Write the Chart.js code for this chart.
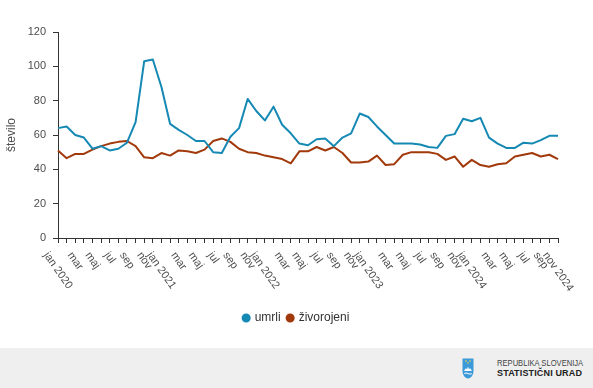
<!DOCTYPE html>
<html><head><meta charset="utf-8">
<script src="https://cdn.jsdelivr.net/npm/chart.js@4.4.1/dist/chart.umd.min.js"></script>
<style>
html,body{margin:0;padding:0;background:#fff;width:593px;height:388px;overflow:hidden;font-family:"Liberation Sans",Arial,sans-serif;}
#wrap{position:absolute;left:0;top:0;width:593px;height:348px;}
#footer{position:absolute;left:0;top:348px;width:593px;height:40px;background:#efefef;}
#logo{position:absolute;left:462px;top:10px;}
.l1{position:absolute;left:497px;top:9px;font-family:"Liberation Sans",Arial,sans-serif;font-size:9.5px;color:#444;white-space:nowrap;transform:scaleX(0.8);transform-origin:0 0;}
.l2{position:absolute;left:497px;top:20px;font-family:"Liberation Sans",Arial,sans-serif;font-weight:bold;font-size:9px;color:#222;white-space:nowrap;letter-spacing:0.15px;}
</style>
</head><body>
<div id="wrap"><canvas id="c" width="593" height="348"></canvas></div>
<div id="footer">
  <svg id="logo" width="12" height="21" viewBox="0 0 12 21">
    <path d="M0.5,0.5 H11.5 V13 C11.5,17.5 8.5,20.5 6,20.5 C3.5,20.5 0.5,17.5 0.5,13 Z" fill="#3d9ad8"/>
    <path d="M2,13 L4,10 L5,11.5 L6,8.5 L7,11.5 L8,10 L10,13 Z" fill="#fff"/>
    <path d="M2.2,15 Q4,14 6,15 Q8,16 9.8,15 L9.8,16 Q8,17 6,16 Q4,15 2.2,16 Z" fill="#fff"/>
    <circle cx="4" cy="3" r="0.8" fill="#f2d24b"/><circle cx="8" cy="3" r="0.8" fill="#f2d24b"/><circle cx="6" cy="5" r="0.8" fill="#f2d24b"/>
  </svg>
  <div class="l1">REPUBLIKA SLOVENIJA</div>
  <div class="l2">STATISTIČNI URAD</div>
</div>
<script>
const categories = [
 'jan 2020','feb 2020','mar 2020','apr 2020','maj 2020','jun 2020','jul 2020','avg 2020','sep 2020','okt 2020','nov 2020','dec 2020',
 'jan 2021','feb 2021','mar 2021','apr 2021','maj 2021','jun 2021','jul 2021','avg 2021','sep 2021','okt 2021','nov 2021','dec 2021',
 'jan 2022','feb 2022','mar 2022','apr 2022','maj 2022','jun 2022','jul 2022','avg 2022','sep 2022','okt 2022','nov 2022','dec 2022',
 'jan 2023','feb 2023','mar 2023','apr 2023','maj 2023','jun 2023','jul 2023','avg 2023','sep 2023','okt 2023','nov 2023','dec 2023',
 'jan 2024','feb 2024','mar 2024','apr 2024','maj 2024','jun 2024','jul 2024','avg 2024','sep 2024','okt 2024','nov 2024'
];
const tickLabels = [
 'jan 2020','','mar','','maj','','jul','','sep','','nov','',
 'jan 2021','','mar','','maj','','jul','','sep','','nov','',
 'jan 2022','','mar','','maj','','jul','','sep','','nov','',
 'jan 2023','','mar','','maj','','jul','','sep','','nov','',
 'jan 2024','','mar','','maj','','jul','','sep','','nov 2024'
];
const umrli = [64, 65, 60, 58.5, 52, 53.5, 51, 52, 55.5, 67.5, 103, 104, 88, 66.5, 63, 60, 56.5, 56.5, 50, 49.5, 59, 64, 81, 74, 68.5, 76.5, 66, 61, 55,
 54, 57.5, 58, 53.5, 58.5, 61, 72.5, 70.5, 65, 60, 55, 55, 55, 54.5, 53, 52.5, 59.5, 60.5, 69.5, 68, 70, 58.5, 55, 52.5, 52.5, 55.5, 55, 57, 59.5, 59.5];
const zivorojeni = [51, 46.5, 49, 49, 51.5, 53.5, 55, 56, 56.5, 53.5, 47, 46.5, 49.5, 48, 51, 50.5, 49.5, 51.5, 56.5, 58, 56, 52, 50, 49.5, 48, 47, 46, 43.5, 50.5,
 50.5, 53, 51, 53, 49.5, 44, 44, 44.5, 48, 42.5, 43, 48.5, 50, 50, 50, 49, 45.5, 47.5, 41.5, 45.5, 42.5, 41.5, 43, 43.5, 47.5, 48.5, 49.5, 47.5, 48.5, 46];
const yTicks = [0, 20, 40, 60, 80, 100, 120];

const BLUE = '#1589b4', BROWN = '#a1390b';
const FONT = '"Liberation Sans", Arial, sans-serif';

const xLabelPlugin = {
  id: 'xLabels',
  afterDraw(chart) {
    const sc = chart.scales.x, ctx = chart.ctx;
    ctx.save();
    ctx.font = '11px ' + FONT;
    ctx.fillStyle = '#4d4d4d';
    ctx.textAlign = 'center';
    ctx.textBaseline = 'middle';
    const ang = 55 * Math.PI / 180;
    const top = sc.top + 12;
    tickLabels.forEach((t, i) => {
      if (!t) return;
      const x = sc.getPixelForValue(i);
      const w = ctx.measureText(t).width, h = 11;
      const cy = top + (w / 2) * Math.sin(ang) + (h / 2) * Math.cos(ang);
      ctx.save();
      ctx.translate(x, cy);
      ctx.rotate(ang);
      ctx.fillText(t, 0, 0);
      ctx.restore();
    });
    ctx.restore();
  }
};
const legendCenter = {
  id: 'legendCenter',
  afterLayout(chart) {
    const lg = chart.legend;
    if (lg) { lg.left = 0; lg.right = chart.width; lg.width = chart.width; }
  }
};

new Chart(document.getElementById('c'), {
  type: 'line',
  data: {
    labels: categories,
    datasets: [
      { label: 'umrli', data: umrli, borderColor: BLUE, backgroundColor: BLUE, borderWidth: 2, pointRadius: 0, tension: 0, borderJoinStyle: 'round' },
      { label: 'živorojeni', data: zivorojeni, borderColor: BROWN, backgroundColor: BROWN, borderWidth: 2, pointRadius: 0, tension: 0, borderJoinStyle: 'round' }
    ]
  },
  options: {
    responsive: false,
    animation: false,
    layout: { padding: { top: 32, right: 35, bottom: 14, left: 0 } },
    plugins: {
      tooltip: { enabled: false },
      legend: {
        position: 'bottom',
        labels: { usePointStyle: true, pointStyle: 'circle', boxWidth: 5, boxHeight: 5, padding: 7, color: '#333', font: { family: FONT, size: 12 } }
      }
    },
    scales: {
      x: {
        afterFit(s) { s.height = 67; },
        grid: { display: true, drawOnChartArea: false, drawTicks: true, tickLength: 5, color: '#333' },
        border: { display: true, color: '#333', width: 1 },
        ticks: { display: false, autoSkip: false }
      },
      y: {
        min: 0, max: 120,
        afterFit(s) { s.width = 58; },
        afterBuildTicks(s) { s.ticks = yTicks.map(v => ({ value: v })); },
        grid: { display: true, drawOnChartArea: false, drawTicks: true, tickLength: 5, color: '#333' },
        border: { display: true, color: '#333', width: 1 },
        ticks: { padding: 7, color: '#4d4d4d', font: { family: FONT, size: 11 } },
        title: { display: true, text: 'število', color: '#4d4d4d', font: { family: FONT, size: 12 } }
      }
    }
  },
  plugins: [xLabelPlugin, legendCenter]
});
</script>
</body></html>
